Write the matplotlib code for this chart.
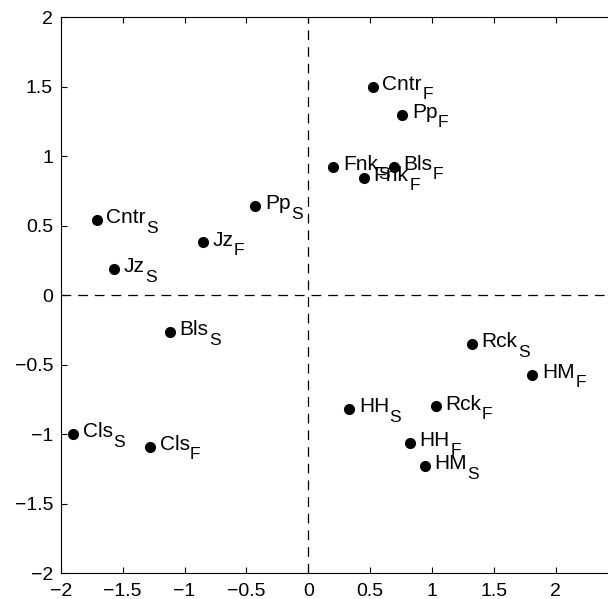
import matplotlib
matplotlib.use("Agg")
import matplotlib.pyplot as plt

plt.rcParams['font.family'] = ['Liberation Sans', 'DejaVu Sans']
plt.rcParams['lines.scale_dashes'] = False

names = ["Cntr", "Pp", "Fnk", "Bls", "Fnk", "Cntr", "Jz", "Pp", "Jz", "Bls",
         "Cls", "Cls", "Rck", "HM", "HH", "Rck", "HH", "HM"]
subs = ["F", "F", "S", "F", "F", "S", "S", "S", "F", "S",
        "S", "F", "S", "F", "S", "F", "F", "S"]
xs = [0.52, 0.76, 0.20, 0.69, 0.45, -1.71, -1.57, -0.43, -0.85, -1.12,
      -1.90, -1.28, 1.32, 1.81, 0.33, 1.03, 0.82, 0.94]
ys = [1.50, 1.30, 0.925, 0.925, 0.846, 0.54, 0.19, 0.64, 0.38, -0.265,
      -1.00, -1.09, -0.35, -0.57, -0.82, -0.80, -1.06, -1.23]

xticks = [-2, -1.5, -1, -0.5, 0, 0.5, 1, 1.5, 2, 2.5]
xticklabels = ["\u22122", "\u22121.5", "\u22121", "\u22120.5", "0", "0.5", "1", "1.5", "2", ""]
yticks = [-2, -1.5, -1, -0.5, 0, 0.5, 1, 1.5, 2]
yticklabels = ["\u22122", "\u22121.5", "\u22121", "\u22120.5", "0", "0.5", "1", "1.5", "2"]

fig = plt.figure(figsize=(6.08, 5.99), dpi=100)
ax = fig.add_axes([60.7/608, (599-573.3)/599, (617.8-60.7)/608, (573.3-17.3)/599])
ax.set_xlim(-2, 2.5)
ax.set_ylim(-2, 2)

ax.axvline(0, color='black', lw=0.9, dashes=(7, 5))
ax.axhline(0, color='black', lw=0.9, dashes=(7, 5))

ax.plot(xs, ys, 'o', color='black', markersize=7, linestyle='none')

for x, y, n, s in zip(xs, ys, names, subs):
    t = ax.annotate(n, xy=(x, y), xytext=(7, -2.2), textcoords='offset points',
                    fontsize=15, va='baseline', ha='left')
    ax.annotate(s, xy=(1, 0), xycoords=t, xytext=(0.3, -4.0),
                textcoords='offset points', fontsize=12.5, va='baseline', ha='left')

ax.set_xticks(xticks)
ax.set_yticks(yticks)
ax.set_xticklabels(xticklabels)
ax.set_yticklabels(yticklabels)
ax.tick_params(direction='in', length=4, width=0.8, labelsize=14,
               top=True, right=True)
ax.tick_params(axis='x', pad=7.2)
ax.tick_params(axis='y', pad=5.5)
for sp in ax.spines.values():
    sp.set_linewidth(0.8)

fig.savefig("out.png", dpi=100)
